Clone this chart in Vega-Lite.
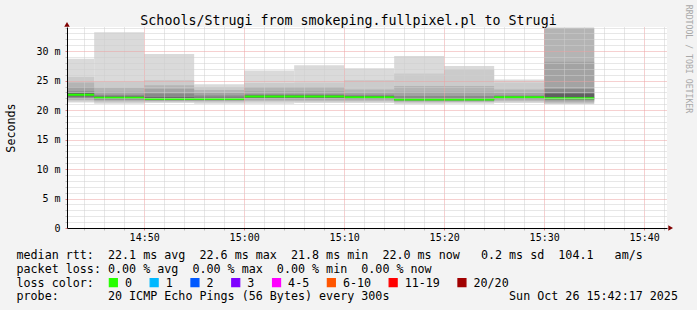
{
  "$schema": "https://vega.github.io/schema/vega-lite/v6.json",
  "width": 600,
  "height": 201,
  "autosize": {"type": "none"},
  "padding": {"left": 67, "top": 27, "right": 30, "bottom": 82},
  "background": "#f3f3f3",
  "config": {"view": {"stroke": null, "fill": "#ffffff"}},
  "title": {
    "text": "Schools/Strugi from smokeping.fullpixel.pl to Strugi",
    "font": "DejaVu Sans Mono", "fontSize": 13.3, "fontWeight": "normal", "color": "#000000",
    "anchor": "middle", "frame": "group", "dx": -18.5, "baseline": "alphabetic", "offset": -33.5
  },
  "datasets": {
    "smokeData": [
      {"t0": "2025-10-26T14:40:00Z", "t1": "2025-10-26T14:45:00Z", "band": 1, "lo": 21.3, "hi": 28.7},
      {"t0": "2025-10-26T14:45:00Z", "t1": "2025-10-26T14:50:00Z", "band": 1, "lo": 21.1, "hi": 33.2},
      {"t0": "2025-10-26T14:50:00Z", "t1": "2025-10-26T14:55:00Z", "band": 1, "lo": 21.2, "hi": 29.5},
      {"t0": "2025-10-26T14:55:00Z", "t1": "2025-10-26T15:00:00Z", "band": 1, "lo": 21.1, "hi": 24.4},
      {"t0": "2025-10-26T15:00:00Z", "t1": "2025-10-26T15:05:00Z", "band": 1, "lo": 21.1, "hi": 26.7},
      {"t0": "2025-10-26T15:05:00Z", "t1": "2025-10-26T15:10:00Z", "band": 1, "lo": 21.2, "hi": 27.6},
      {"t0": "2025-10-26T15:10:00Z", "t1": "2025-10-26T15:15:00Z", "band": 1, "lo": 21.2, "hi": 27.1},
      {"t0": "2025-10-26T15:15:00Z", "t1": "2025-10-26T15:20:00Z", "band": 1, "lo": 21.0, "hi": 29.2},
      {"t0": "2025-10-26T15:20:00Z", "t1": "2025-10-26T15:25:00Z", "band": 1, "lo": 21.1, "hi": 27.5},
      {"t0": "2025-10-26T15:25:00Z", "t1": "2025-10-26T15:30:00Z", "band": 1, "lo": 21.2, "hi": 25.2},
      {"t0": "2025-10-26T15:30:00Z", "t1": "2025-10-26T15:35:00Z", "band": 1, "lo": 21.0, "hi": 34.0},
      {"t0": "2025-10-26T14:40:00Z", "t1": "2025-10-26T14:45:00Z", "band": 2, "lo": 21.5, "hi": 25.6},
      {"t0": "2025-10-26T14:45:00Z", "t1": "2025-10-26T14:50:00Z", "band": 2, "lo": 21.3, "hi": 24.8},
      {"t0": "2025-10-26T14:50:00Z", "t1": "2025-10-26T14:55:00Z", "band": 2, "lo": 21.4, "hi": 25.1},
      {"t0": "2025-10-26T14:55:00Z", "t1": "2025-10-26T15:00:00Z", "band": 2, "lo": 21.3, "hi": 23.9},
      {"t0": "2025-10-26T15:00:00Z", "t1": "2025-10-26T15:05:00Z", "band": 2, "lo": 21.4, "hi": 24.6},
      {"t0": "2025-10-26T15:05:00Z", "t1": "2025-10-26T15:10:00Z", "band": 2, "lo": 21.4, "hi": 24.7},
      {"t0": "2025-10-26T15:10:00Z", "t1": "2025-10-26T15:15:00Z", "band": 2, "lo": 21.4, "hi": 25.1},
      {"t0": "2025-10-26T15:15:00Z", "t1": "2025-10-26T15:20:00Z", "band": 2, "lo": 21.2, "hi": 26.2},
      {"t0": "2025-10-26T15:20:00Z", "t1": "2025-10-26T15:25:00Z", "band": 2, "lo": 21.3, "hi": 26.9},
      {"t0": "2025-10-26T15:25:00Z", "t1": "2025-10-26T15:30:00Z", "band": 2, "lo": 21.4, "hi": 24.7},
      {"t0": "2025-10-26T15:30:00Z", "t1": "2025-10-26T15:35:00Z", "band": 2, "lo": 21.1, "hi": 33.98},
      {"t0": "2025-10-26T14:40:00Z", "t1": "2025-10-26T14:45:00Z", "band": 3, "lo": 21.7, "hi": 24.7},
      {"t0": "2025-10-26T14:45:00Z", "t1": "2025-10-26T14:50:00Z", "band": 3, "lo": 21.5, "hi": 23.8},
      {"t0": "2025-10-26T14:50:00Z", "t1": "2025-10-26T14:55:00Z", "band": 3, "lo": 21.5, "hi": 24.2},
      {"t0": "2025-10-26T14:55:00Z", "t1": "2025-10-26T15:00:00Z", "band": 3, "lo": 21.5, "hi": 23.4},
      {"t0": "2025-10-26T15:00:00Z", "t1": "2025-10-26T15:05:00Z", "band": 3, "lo": 21.6, "hi": 23.9},
      {"t0": "2025-10-26T15:05:00Z", "t1": "2025-10-26T15:10:00Z", "band": 3, "lo": 21.6, "hi": 23.9},
      {"t0": "2025-10-26T15:10:00Z", "t1": "2025-10-26T15:15:00Z", "band": 3, "lo": 21.6, "hi": 23.5},
      {"t0": "2025-10-26T15:15:00Z", "t1": "2025-10-26T15:20:00Z", "band": 3, "lo": 21.4, "hi": 24.1},
      {"t0": "2025-10-26T15:20:00Z", "t1": "2025-10-26T15:25:00Z", "band": 3, "lo": 21.4, "hi": 24.1},
      {"t0": "2025-10-26T15:25:00Z", "t1": "2025-10-26T15:30:00Z", "band": 3, "lo": 21.6, "hi": 23.5},
      {"t0": "2025-10-26T15:30:00Z", "t1": "2025-10-26T15:35:00Z", "band": 3, "lo": 21.3, "hi": 33.95},
      {"t0": "2025-10-26T14:40:00Z", "t1": "2025-10-26T14:45:00Z", "band": 4, "lo": 21.9, "hi": 23.9},
      {"t0": "2025-10-26T14:45:00Z", "t1": "2025-10-26T14:50:00Z", "band": 4, "lo": 21.7, "hi": 23.1},
      {"t0": "2025-10-26T14:50:00Z", "t1": "2025-10-26T14:55:00Z", "band": 4, "lo": 21.6, "hi": 23.6},
      {"t0": "2025-10-26T14:55:00Z", "t1": "2025-10-26T15:00:00Z", "band": 4, "lo": 21.6, "hi": 22.9},
      {"t0": "2025-10-26T15:00:00Z", "t1": "2025-10-26T15:05:00Z", "band": 4, "lo": 21.8, "hi": 23.2},
      {"t0": "2025-10-26T15:05:00Z", "t1": "2025-10-26T15:10:00Z", "band": 4, "lo": 21.8, "hi": 23.2},
      {"t0": "2025-10-26T15:10:00Z", "t1": "2025-10-26T15:15:00Z", "band": 4, "lo": 21.8, "hi": 23.0},
      {"t0": "2025-10-26T15:15:00Z", "t1": "2025-10-26T15:20:00Z", "band": 4, "lo": 21.5, "hi": 23.1},
      {"t0": "2025-10-26T15:20:00Z", "t1": "2025-10-26T15:25:00Z", "band": 4, "lo": 21.5, "hi": 23.1},
      {"t0": "2025-10-26T15:25:00Z", "t1": "2025-10-26T15:30:00Z", "band": 4, "lo": 21.8, "hi": 22.9},
      {"t0": "2025-10-26T15:30:00Z", "t1": "2025-10-26T15:35:00Z", "band": 4, "lo": 21.5, "hi": 28.2},
      {"t0": "2025-10-26T14:40:00Z", "t1": "2025-10-26T14:45:00Z", "band": 5, "lo": 22.1, "hi": 23.2},
      {"t0": "2025-10-26T14:45:00Z", "t1": "2025-10-26T14:50:00Z", "band": 5, "lo": 21.8, "hi": 22.6},
      {"t0": "2025-10-26T14:50:00Z", "t1": "2025-10-26T14:55:00Z", "band": 5, "lo": 21.7, "hi": 22.8},
      {"t0": "2025-10-26T14:55:00Z", "t1": "2025-10-26T15:00:00Z", "band": 5, "lo": 21.7, "hi": 22.5},
      {"t0": "2025-10-26T15:00:00Z", "t1": "2025-10-26T15:05:00Z", "band": 5, "lo": 22.0, "hi": 22.7},
      {"t0": "2025-10-26T15:05:00Z", "t1": "2025-10-26T15:10:00Z", "band": 5, "lo": 22.0, "hi": 22.7},
      {"t0": "2025-10-26T15:10:00Z", "t1": "2025-10-26T15:15:00Z", "band": 5, "lo": 21.9, "hi": 22.6},
      {"t0": "2025-10-26T15:15:00Z", "t1": "2025-10-26T15:20:00Z", "band": 5, "lo": 21.6, "hi": 22.4},
      {"t0": "2025-10-26T15:20:00Z", "t1": "2025-10-26T15:25:00Z", "band": 5, "lo": 21.6, "hi": 22.4},
      {"t0": "2025-10-26T15:25:00Z", "t1": "2025-10-26T15:30:00Z", "band": 5, "lo": 21.9, "hi": 22.5},
      {"t0": "2025-10-26T15:30:00Z", "t1": "2025-10-26T15:35:00Z", "band": 5, "lo": 21.7, "hi": 23.6},
      {"t0": "2025-10-26T14:40:00Z", "t1": "2025-10-26T14:45:00Z", "band": 6, "lo": 22.3, "hi": 22.9},
      {"t0": "2025-10-26T14:45:00Z", "t1": "2025-10-26T14:50:00Z", "band": 6, "lo": 21.9, "hi": 22.3},
      {"t0": "2025-10-26T14:50:00Z", "t1": "2025-10-26T14:55:00Z", "band": 6, "lo": 21.8, "hi": 22.2},
      {"t0": "2025-10-26T14:55:00Z", "t1": "2025-10-26T15:00:00Z", "band": 6, "lo": 21.8, "hi": 22.1},
      {"t0": "2025-10-26T15:00:00Z", "t1": "2025-10-26T15:05:00Z", "band": 6, "lo": 22.1, "hi": 22.5},
      {"t0": "2025-10-26T15:05:00Z", "t1": "2025-10-26T15:10:00Z", "band": 6, "lo": 22.1, "hi": 22.5},
      {"t0": "2025-10-26T15:10:00Z", "t1": "2025-10-26T15:15:00Z", "band": 6, "lo": 22.0, "hi": 22.4},
      {"t0": "2025-10-26T15:15:00Z", "t1": "2025-10-26T15:20:00Z", "band": 6, "lo": 21.7, "hi": 22.0},
      {"t0": "2025-10-26T15:20:00Z", "t1": "2025-10-26T15:25:00Z", "band": 6, "lo": 21.7, "hi": 22.0},
      {"t0": "2025-10-26T15:25:00Z", "t1": "2025-10-26T15:30:00Z", "band": 6, "lo": 22.0, "hi": 22.3},
      {"t0": "2025-10-26T15:30:00Z", "t1": "2025-10-26T15:35:00Z", "band": 6, "lo": 21.9, "hi": 22.8}
    ],
    "medianData": [
      {"t0": "2025-10-26T14:40:00Z", "t1": "2025-10-26T14:45:00Z", "median": 22.6, "loss": "0"},
      {"t0": "2025-10-26T14:45:00Z", "t1": "2025-10-26T14:50:00Z", "median": 22.1, "loss": "0"},
      {"t0": "2025-10-26T14:50:00Z", "t1": "2025-10-26T14:55:00Z", "median": 21.9, "loss": "0"},
      {"t0": "2025-10-26T14:55:00Z", "t1": "2025-10-26T15:00:00Z", "median": 21.9, "loss": "0"},
      {"t0": "2025-10-26T15:00:00Z", "t1": "2025-10-26T15:05:00Z", "median": 22.3, "loss": "0"},
      {"t0": "2025-10-26T15:05:00Z", "t1": "2025-10-26T15:10:00Z", "median": 22.3, "loss": "0"},
      {"t0": "2025-10-26T15:10:00Z", "t1": "2025-10-26T15:15:00Z", "median": 22.2, "loss": "0"},
      {"t0": "2025-10-26T15:15:00Z", "t1": "2025-10-26T15:20:00Z", "median": 21.8, "loss": "0"},
      {"t0": "2025-10-26T15:20:00Z", "t1": "2025-10-26T15:25:00Z", "median": 21.8, "loss": "0"},
      {"t0": "2025-10-26T15:25:00Z", "t1": "2025-10-26T15:30:00Z", "median": 22.2, "loss": "0"},
      {"t0": "2025-10-26T15:30:00Z", "t1": "2025-10-26T15:35:00Z", "median": 22.0, "loss": "0"}
    ],
    "arrowData": [
      {"t0": "2025-10-26T14:42:17Z", "v": 34.55, "dir": "up"},
      {"t0": "2025-10-26T15:42:39Z", "v": 0, "dir": "right"}
    ],
    "stampData": [
      {"t0": "2025-10-26T15:44:23Z", "v": 28.67, "label": "RRDTOOL / TOBI OETIKER"}
    ]
  },
  "encoding": {
    "x": {
      "field": "t0", "type": "temporal",
      "scale": {"type": "utc", "domain": [1761489737000, 1761493337000]},
      "axis": {
        "values": [1761489840000, 1761489960000, 1761490080000, 1761490200000, 1761490320000, 1761490440000, 1761490560000, 1761490680000, 1761490800000, 1761490920000, 1761491040000, 1761491160000, 1761491280000, 1761491400000, 1761491520000, 1761491640000, 1761491760000, 1761491880000, 1761492000000, 1761492120000, 1761492240000, 1761492360000, 1761492480000, 1761492600000, 1761492720000, 1761492840000, 1761492960000, 1761493080000, 1761493200000, 1761493320000],
        "grid": true,
        "gridColor": {"condition": {"test": "utcminutes(datum.value) % 10 == 0", "value": "#eca0a0"}, "value": "#cfcfcf"},
        "gridDash": [1, 1], "gridWidth": 1, "zindex": 1,
        "domainColor": "#000000", "domainWidth": 1,
        "tickSize": 2,
        "tickColor": {"condition": {"test": "utcminutes(datum.value) % 10 == 0", "value": "#e08080"}, "value": "#bfbfbf"},
        "labelExpr": "utcminutes(datum.value) % 10 == 0 ? utcFormat(datum.value, '%H:%M') : ''",
        "labelFont": "DejaVu Sans Mono", "labelFontSize": 10, "labelColor": "#000000",
        "labelPadding": 2.4, "labelOverlap": false, "labelFlush": false, "labelAlign": "center", "labelBaseline": "top",
        "title": [
          "median rtt:\u00a0\u00a022.1 ms avg\u00a0\u00a022.6 ms max\u00a0\u00a021.8 ms min\u00a0\u00a022.0 ms now\u00a0\u00a0\u00a00.2 ms sd\u00a0\u00a0104.1\u00a0\u00a0\u00a0am/s",
          "packet loss: 0.00 % avg\u00a0\u00a00.00 % max\u00a0\u00a00.00 % min\u00a0\u00a00.00 % now",
          "loss color:",
          "probe:\u00a0\u00a0\u00a0\u00a0\u00a0\u00a0\u00a020 ICMP Echo Pings (56 Bytes) every 300s\u00a0\u00a0\u00a0\u00a0\u00a0\u00a0\u00a0\u00a0\u00a0\u00a0\u00a0\u00a0\u00a0\u00a0\u00a0\u00a0\u00a0Sun Oct 26 15:42:17 2025"
        ],
        "titleFont": "DejaVu Sans Mono", "titleFontSize": 11.7, "titleFontWeight": "normal", "titleColor": "#000000",
        "titleX": -51, "titleY": 30.5, "titleAlign": "left", "titleAnchor": "start", "titleBaseline": "alphabetic",
        "titleLineHeight": 13.8
      }
    }
  },
  "layer": [
    {
      "data": {"name": "smokeData"},
      "mark": {"type": "rect", "clip": true, "strokeWidth": 0},
      "encoding": {
        "x2": {"field": "t1"},
        "y": {
          "field": "lo", "type": "quantitative",
          "scale": {"domain": [0, 34.1], "nice": false, "zero": false},
          "axis": {
            "values": [0,1,2,3,4,5,6,7,8,9,10,11,12,13,14,15,16,17,18,19,20,21,22,23,24,25,26,27,28,29,30,31,32,33,34],
            "grid": true,
            "gridColor": {"condition": {"test": "datum.value % 5 == 0", "value": "#eca0a0"}, "value": "#cfcfcf"},
            "gridDash": [1, 1], "gridWidth": 1, "zindex": 1,
            "domainColor": "#000000", "domainWidth": 1,
            "tickSize": 2,
            "tickColor": {"condition": {"test": "datum.value % 5 == 0", "value": "#e08080"}, "value": "#bfbfbf"},
            "labelExpr": "datum.value % 5 == 0 ? (datum.value == 0 ? '0\u00a0\u00a0' : datum.value + ' m') : ''",
            "labelFont": "DejaVu Sans Mono", "labelFontSize": 10, "labelColor": "#000000",
            "labelPadding": 5, "labelBaseline": "middle", "labelAlign": "right", "labelOverlap": false, "labelFlush": false,
            "title": "Seconds",
            "titleFont": "DejaVu Sans Mono", "titleFontSize": 11.7, "titleFontWeight": "normal", "titleColor": "#000000",
            "titleX": -57, "titleY": 100.5, "titleAngle": 270, "titleAlign": "center", "titleBaseline": "middle"
          }
        },
        "y2": {"field": "hi"},
        "fill": {
          "field": "band", "type": "ordinal",
          "scale": {"domain": [1, 2, 3, 4, 5, 6], "range": ["#dadada", "#cbcbcb", "#b4b4b4", "#a3a3a3", "#8a8a8a", "#606060"]},
          "legend": null
        }
      }
    },
    {
      "layer": [
        {
          "data": {"name": "medianData"},
          "mark": {"type": "rule", "clip": true, "strokeWidth": 2},
          "encoding": {
            "x2": {"field": "t1"},
            "y": {
              "field": "median", "type": "quantitative",
              "scale": {"domain": [0, 34.1], "nice": false, "zero": false},
              "axis": null
            },
            "color": {
              "field": "loss", "type": "nominal",
              "scale": {
                "domain": ["0", "1", "2", "3", "4-5", "6-10", "11-19", "20/20"],
                "range": ["#26ff00", "#00b8ff", "#0059ff", "#7e00ff", "#ff00ff", "#ff5500", "#ff0000", "#a10000"]
              },
              "legend": {
                "orient": "none", "legendX": 40.5, "legendY": 249.5,
                "direction": "horizontal", "padding": 0,
                "title": null,
                "labelFont": "DejaVu Sans Mono", "labelFontSize": 11.7, "labelColor": "#000000",
                "labelOffset": 5.7, "columnPadding": 14.8,
                "symbolType": "square", "symbolSize": 64, "symbolStrokeWidth": 1.2, "symbolStrokeColor": "#000000", "symbolOpacity": 1,
                "encode": {
                  "symbols": {
                    "update": {
                      "fill": {"scale": "color", "field": "value"},
                      "stroke": {"value": "#000000"},
                      "strokeWidth": {"value": 1.2}
                    }
                  }
                }
              }
            }
          }
        },
        {
          "data": {"name": "arrowData"},
          "mark": {"type": "point", "filled": true, "size": 30, "color": "#800000", "opacity": 1},
          "encoding": {
            "y": {"field": "v", "type": "quantitative", "scale": {"domain": [0, 34.1], "nice": false, "zero": false}, "axis": null},
            "shape": {
              "field": "dir", "type": "nominal",
              "scale": {"domain": ["up", "right"], "range": ["triangle-up", "triangle-right"]},
              "legend": null
            }
          }
        },
        {
          "data": {"name": "stampData"},
          "mark": {"type": "text", "angle": 90, "align": "center", "baseline": "middle", "font": "DejaVu Sans Mono", "fontSize": 8.2, "color": "#a8a8a8"},
          "encoding": {
            "y": {"field": "v", "type": "quantitative", "scale": {"domain": [0, 34.1], "nice": false, "zero": false}, "axis": null},
            "text": {"field": "label"}
          }
        }
      ]
    }
  ],
  "resolve": {"scale": {"y": "independent"}}
}
